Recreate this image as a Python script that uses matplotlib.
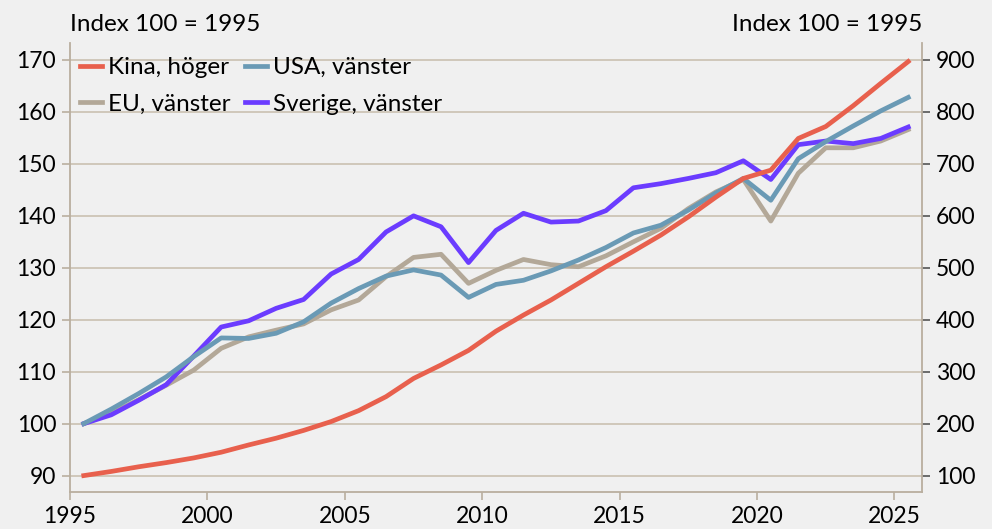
import numpy as np
import matplotlib.pyplot as plt

plt.rcParams['font.family'] = ['Lato', 'DejaVu Sans']

years = np.arange(1995, 2026)

sverige = [100, 101.7, 104.5, 107.5, 113.0, 118.6, 119.8, 122.2, 123.9, 128.8,
           131.6, 136.9, 140.0, 137.9, 131.0, 137.2, 140.5, 138.8, 139.0, 141.0,
           145.4, 146.2, 147.2, 148.3, 150.6, 147.0, 153.7, 154.4, 153.9, 154.9, 157.1]
eu = [100, 102.0, 104.6, 107.4, 110.3, 114.5, 116.7, 118.0, 119.2, 121.9,
      123.8, 128.3, 132.0, 132.6, 127.0, 129.5, 131.6, 130.6, 130.2, 132.3,
      135.0, 137.6, 141.4, 144.6, 147.0, 139.0, 148.2, 153.1, 153.1, 154.4, 156.6]
usa = [100, 102.8, 105.8, 109.0, 112.9, 116.5, 116.4, 117.4, 119.6, 123.2,
       126.0, 128.4, 129.6, 128.6, 124.3, 126.8, 127.6, 129.4, 131.5, 133.9,
       136.7, 138.2, 141.1, 144.4, 147.2, 143.0, 151.0, 154.3, 157.3, 160.2, 162.8]
kina = [100, 108, 117, 125, 134, 145, 159, 172, 187, 204,
        225, 252, 287, 313, 341, 378, 409, 438, 470, 502,
        532, 563, 598, 636, 672, 688, 749, 772, 812, 855, 897]

left_ticks = [90, 100, 110, 120, 130, 140, 150, 160, 170]
right_ticks = [100, 200, 300, 400, 500, 600, 700, 800, 900]
x_ticks = [1995, 2000, 2005, 2010, 2015, 2020, 2025]

bg = '#f0f0f0'
grid_c = '#cdc4b6'
spine_c = '#b9ae9f'

fig = plt.figure(figsize=(9.92, 5.29), dpi=100, facecolor=bg)
ax = fig.add_axes([0.0706, 0.0705, 0.8588, 0.8485], facecolor=bg)
ax2 = ax.twinx()

x = years + 0.5
lw = 3.4
l_eu, = ax.plot(x, eu, color='#b3a898', lw=lw, label='EU, vänster')
l_se, = ax.plot(x, sverige, color='#6b3cff', lw=lw, label='Sverige, vänster')
l_us, = ax.plot(x, usa, color='#6a9ab5', lw=lw, label='USA, vänster')
l_cn, = ax2.plot(x, kina, color='#e8604d', lw=lw, label='Kina, höger')

ax.set_xlim(1995, 2026)
ax.set_ylim(86.9, 173.3)
ax2.set_ylim(69, 933)
ax.set_yticks(left_ticks)
ax2.set_yticks(right_ticks)
ax.set_xticks(x_ticks)

ax.grid(axis='y', color=grid_c, lw=1.3)
ax.set_axisbelow(True)

for a in (ax, ax2):
    for s in a.spines.values():
        s.set_visible(False)
ax.spines['left'].set_visible(True)
ax.spines['bottom'].set_visible(True)
ax2.spines['right'].set_visible(True)
for s in (ax.spines['left'], ax.spines['bottom'], ax2.spines['right']):
    s.set_color(spine_c)
    s.set_linewidth(1.3)

ax.tick_params(axis='both', labelsize=16.5, length=6, width=1.2, color=spine_c, pad=4)
ax2.tick_params(axis='y', labelsize=16.5, length=6, width=1.2, color='#555555', pad=4)

fig.text(0.0706, 0.953, 'Index 100 = 1995', fontsize=17.5, ha='left', va='center')
fig.text(0.9294, 0.953, 'Index 100 = 1995', fontsize=17.5, ha='right', va='center')

ax.legend(handles=[l_cn, l_eu, l_us, l_se], ncol=2, loc='upper left',
          bbox_to_anchor=(0.0, 0.99), frameon=False, fontsize=17.5,
          handlelength=0.9, handletextpad=0.25, columnspacing=0.6,
          labelspacing=0.65, borderaxespad=0.0)

fig.savefig('out.png', dpi=100, facecolor=bg)
